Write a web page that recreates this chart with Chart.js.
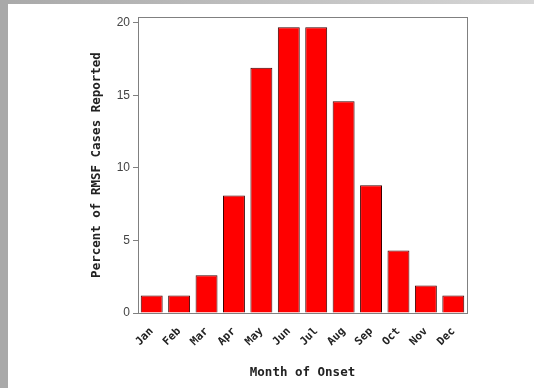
<!DOCTYPE html>
<html>
<head>
  <title>Month of Onset - RMSF</title>
  <meta charset="utf-8" />
  <script src="https://cdn.jsdelivr.net/npm/chart.js"></script>
  <style>
    body { margin: 0; background: #fff; }
    #wrap { position: relative; width: 534px; height: 388px; overflow: hidden; }
    #wrap canvas { position: absolute; left: 0; top: 0; }
    #edgeLeft { position: absolute; left: 0; top: 0; width: 8px; height: 388px; background: #a9a9a9; }
    #edgeTop { position: absolute; left: 0; top: 0; width: 534px; height: 4px; background: linear-gradient(to right, #a9a9a9, #d6d6d6); }
  </style>
</head>
<body>
  <div id="wrap">
    <canvas id="onsetChart"></canvas>
    <div id="edgeTop"></div>
    <div id="edgeLeft"></div>
  </div>

  <script>
    const months = ['Jan', 'Feb', 'Mar', 'Apr', 'May', 'Jun', 'Jul', 'Aug', 'Sep', 'Oct', 'Nov', 'Dec'];
    const percentReported = [1.2, 1.2, 2.6, 8.1, 16.9, 19.7, 19.7, 14.6, 8.8, 4.3, 1.9, 1.2];

    const monoFont = 'DejaVu Sans Mono';

    // box around the plot area
    const frame = {
      id: 'frame',
      afterDraw(chart) {
        const a = chart.chartArea;
        const c = chart.ctx;
        c.save();
        c.strokeStyle = '#808080';
        c.lineWidth = 1;
        c.strokeRect(Math.round(a.left) + 0.5, Math.round(a.top) + 0.5,
          Math.round(a.right - a.left), Math.round(a.bottom - a.top));
        c.restore();
      }
    };

    const ctx = document.getElementById('onsetChart').getContext('2d');
    new Chart(ctx, {
      type: 'bar',
      data: {
        labels: months,
        datasets: [{
          data: percentReported,
          backgroundColor: '#ff0000',
          borderColor: '#3a0000',
          borderWidth: 1,
          barPercentage: 0.8,
          categoryPercentage: 1.0
        }]
      },
      plugins: [frame],
      options: {
        responsive: true,
        maintainAspectRatio: false,
        animation: false,
        layout: { padding: { left: 0, top: 17, right: 67, bottom: 0 } },
        plugins: {
          legend: { display: false },
          tooltip: { enabled: false }
        },
        scales: {
          x: {
            grid: { display: false },
            border: { display: false },
            afterFit: s => { s.height = 75; },
            ticks: {
              minRotation: 45,
              maxRotation: 45,
              padding: 4,
              color: '#222',
              font: { family: monoFont, size: 11, weight: 'bold' }
            },
            title: {
              display: true,
              text: 'Month of Onset',
              color: '#222',
              padding: { top: 4, bottom: 8 },
              font: { family: monoFont, size: 12.5, weight: 'bold' }
            }
          },
          y: {
            min: 0,
            max: 20.4,
            afterFit: s => { s.width = 138; },
            grid: { drawOnChartArea: false, drawTicks: true, tickLength: 5, color: '#808080' },
            border: { display: false },
            ticks: {
              stepSize: 5,
              includeBounds: false,
              padding: 3,
              color: '#444',
              font: { family: 'Liberation Sans', size: 12 }
            },
            title: {
              display: true,
              text: 'Percent of RMSF Cases Reported',
              color: '#222',
              padding: { top: 89, bottom: 0 },
              font: { family: monoFont, size: 12.5, weight: 'bold' }
            }
          }
        }
      }
    });
  </script>
</body>
</html>
